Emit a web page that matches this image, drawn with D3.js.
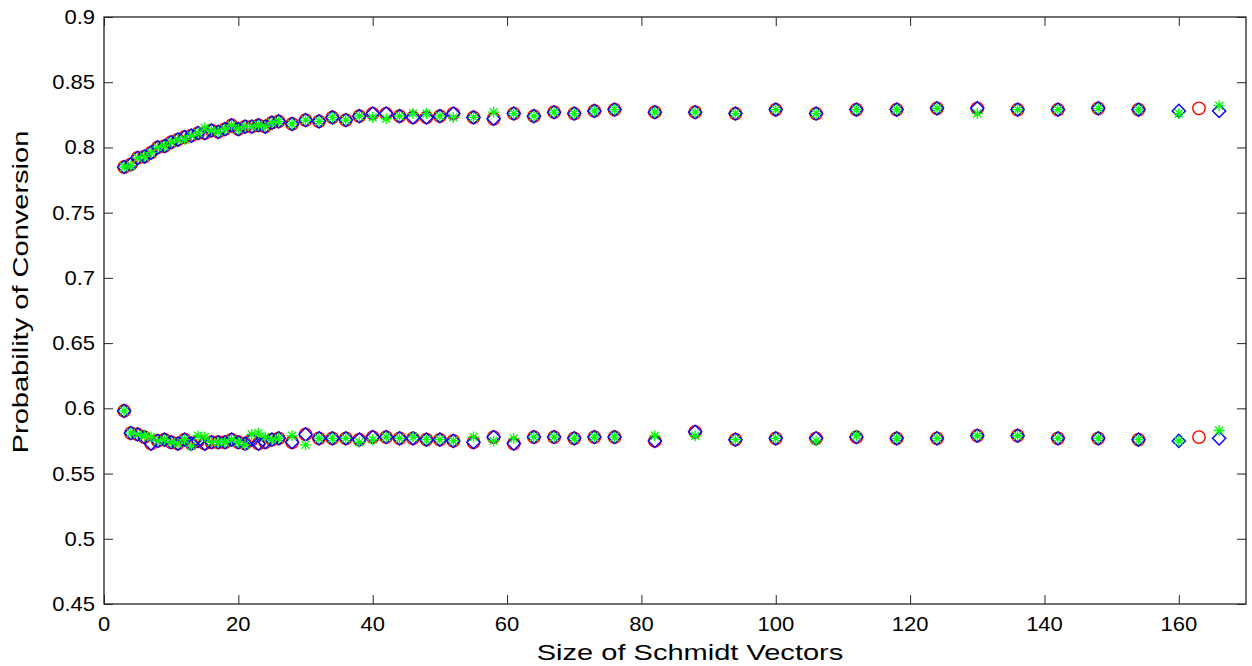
<!DOCTYPE html>
<html>
<head>
<meta charset="utf-8">
<script src="https://cdn.jsdelivr.net/npm/d3@7/dist/d3.min.js"></script>
<style>
  html, body { margin: 0; padding: 0; background: #fff; }
  svg { display: block; }
  text { font-family: "Liberation Sans", Arial, Helvetica, sans-serif; }
</style>
</head>
<body>
<svg id="chart" width="1252" height="666"></svg>
<script>
// ---------------- data ----------------
const commonSizes = [3,4,5,6,7,8,9,10,11,12,13,14,15,16,17,18,19,20,21,22,23,24,25,26,
  28,30,32,34,36,38,40,42,44,46,48,50,52,
  55,58,61,64,67,70,73,76,
  82,88,94,100,106,112,118,124,130,136,142,148,154];
const redExtraSizes = [163];
const blueExtraSizes = [160,166];

const upperRed = [0.785,0.787,0.792,0.793,0.796,0.800,0.801,0.804,0.806,0.808,0.809,0.811,0.811,0.813,0.812,0.814,0.817,0.814,0.816,0.816,0.817,0.816,0.819,0.820,
  0.818,0.821,0.820,0.823,0.821,0.824,0.826,0.826,0.824,0.823,0.823,0.824,0.826,
  0.823,0.822,0.826,0.824,0.827,0.826,0.828,0.829,
  0.827,0.827,0.826,0.829,0.826,0.829,0.829,0.830,0.830,0.829,0.829,0.830,0.829];
const upperRedExtra = [0.830];
const upperBlue = [0.785,0.787,0.792,0.793,0.796,0.800,0.801,0.804,0.806,0.808,0.809,0.811,0.811,0.813,0.812,0.814,0.817,0.814,0.816,0.816,0.817,0.816,0.819,0.820,
  0.818,0.821,0.820,0.823,0.821,0.824,0.826,0.826,0.824,0.823,0.823,0.824,0.826,
  0.823,0.822,0.826,0.824,0.827,0.826,0.828,0.829,
  0.827,0.827,0.826,0.829,0.826,0.829,0.829,0.830,0.830,0.829,0.829,0.830,0.829];
const upperBlueExtra = [0.828,0.828];
const upperGreen = [0.785,0.786,0.792,0.793,0.796,0.800,0.801,0.804,0.806,0.806,0.809,0.811,0.815,0.813,0.812,0.814,0.817,0.814,0.816,0.816,0.817,0.816,0.819,0.820,
  0.818,0.821,0.820,0.823,0.821,0.824,0.823,0.822,0.824,0.826,0.826,0.824,0.823,
  0.823,0.827,0.826,0.824,0.827,0.826,0.828,0.829,
  0.827,0.827,0.826,0.829,0.826,0.829,0.829,0.830,0.826,0.829,0.829,0.830,0.829];
const upperGreenExtra = [0.826,0.832];

const lowerRed = [0.598,0.581,0.580,0.578,0.573,0.575,0.576,0.574,0.573,0.576,0.573,0.575,0.573,0.574,0.574,0.574,0.576,0.574,0.573,0.576,0.573,0.574,0.576,0.577,
  0.574,0.580,0.577,0.577,0.577,0.576,0.578,0.578,0.577,0.577,0.576,0.576,0.575,
  0.574,0.578,0.573,0.578,0.578,0.577,0.578,0.578,
  0.575,0.582,0.576,0.577,0.577,0.578,0.577,0.577,0.579,0.579,0.577,0.577,0.576];
const lowerRedExtra = [0.578];
const lowerBlue = [0.598,0.581,0.580,0.578,0.573,0.575,0.576,0.574,0.573,0.576,0.573,0.575,0.573,0.574,0.574,0.574,0.576,0.574,0.573,0.576,0.573,0.574,0.576,0.577,
  0.574,0.580,0.577,0.577,0.577,0.576,0.578,0.578,0.577,0.577,0.576,0.576,0.575,
  0.574,0.578,0.573,0.578,0.578,0.577,0.578,0.578,
  0.575,0.582,0.576,0.577,0.577,0.578,0.577,0.577,0.579,0.579,0.577,0.577,0.576];
const lowerBlueExtra = [0.575,0.577];
const lowerGreen = [0.598,0.581,0.580,0.579,0.578,0.575,0.576,0.574,0.573,0.576,0.571,0.579,0.578,0.574,0.574,0.574,0.576,0.574,0.572,0.580,0.581,0.578,0.576,0.577,
  0.579,0.572,0.577,0.577,0.577,0.574,0.576,0.578,0.577,0.578,0.576,0.576,0.575,
  0.578,0.575,0.577,0.578,0.578,0.577,0.578,0.578,
  0.579,0.579,0.576,0.577,0.575,0.579,0.577,0.577,0.579,0.579,0.577,0.577,0.576];
const lowerGreenExtra = [0.575,0.583];

const xTicks = [0,20,40,60,80,100,120,140,160];
const yTicks = [0.45,0.5,0.55,0.6,0.65,0.7,0.75,0.8,0.85,0.9];
const xTickLabels = ["0","20","40","60","80","100","120","140","160"];
const yTickLabels = ["0.45","0.5","0.55","0.6","0.65","0.7","0.75","0.8","0.85","0.9"];
const xLabel = "Size of Schmidt Vectors";
const yLabel = "Probability of Conversion";

// ---------------- layout ----------------
const W = 1252, H = 666;
const m = {left: 104, top: 17, right: 6, bottom: 62};
const pw = W - m.left - m.right, ph = H - m.top - m.bottom;
const svg = d3.select("#chart");
const g = svg.append("g").attr("transform", `translate(${m.left},${m.top})`);

const x = d3.scaleLinear().domain([0,170]).range([0,pw]);
const y = d3.scaleLinear().domain([0.45,0.9]).range([ph,0]);

function pts(sizes, vals) { return sizes.map((s,i)=>({x:s, y:vals[i]})); }
const red = pts(commonSizes, upperRed).concat(pts(redExtraSizes, upperRedExtra))
  .concat(pts(commonSizes, lowerRed)).concat(pts(redExtraSizes, lowerRedExtra));
const blue = pts(commonSizes, upperBlue).concat(pts(blueExtraSizes, upperBlueExtra))
  .concat(pts(commonSizes, lowerBlue)).concat(pts(blueExtraSizes, lowerBlueExtra));
const green = pts(commonSizes, upperGreen).concat(pts(blueExtraSizes, upperGreenExtra))
  .concat(pts(commonSizes, lowerGreen)).concat(pts(blueExtraSizes, lowerGreenExtra));

// ---------------- axes ----------------
const axisColor = "#262626";
const tickLen = 9;
const tickFont = 20, tickStretch = 1.1;
const labelFont = 22, labelStretch = 1.32;

function style(sel) {
  sel.select(".domain").remove();
  sel.selectAll(".tick line").attr("stroke", axisColor).attr("stroke-width", 1);
  sel.selectAll(".tick text").remove();
}
g.append("g").attr("transform", `translate(0,${ph})`)
  .call(d3.axisBottom(x).tickValues(xTicks).tickSize(-tickLen).tickFormat("")).call(style);
g.append("g").call(d3.axisTop(x).tickValues(xTicks).tickSize(-tickLen).tickFormat("")).call(style);
g.append("g").call(d3.axisLeft(y).tickValues(yTicks).tickSize(-tickLen).tickFormat("")).call(style);
g.append("g").attr("transform", `translate(${pw},0)`)
  .call(d3.axisRight(y).tickValues(yTicks).tickSize(-tickLen).tickFormat("")).call(style);

g.append("rect").attr("x",0).attr("y",0).attr("width",pw).attr("height",ph)
  .attr("fill","none").attr("stroke",axisColor).attr("stroke-width",1.3);

// tick labels (slightly wide, like the original rendering)
g.append("g").selectAll("text").data(xTicks).join("text")
  .attr("transform", (d)=>`translate(${x(d)},${ph + 27}) scale(${tickStretch},1)`)
  .attr("text-anchor","middle").style("font-size", tickFont+"px").attr("fill","#000")
  .text((d,i)=>xTickLabels[i]);
g.append("g").selectAll("text").data(yTicks).join("text")
  .attr("transform", (d)=>`translate(-9,${y(d) + 7}) scale(${tickStretch},1)`)
  .attr("text-anchor","end").style("font-size", tickFont+"px").attr("fill","#000")
  .text((d,i)=>yTickLabels[i]);

// ---------------- markers ----------------
const marks = g.append("g");
marks.selectAll("circle.r").data(red).join("circle").attr("class","r")
  .attr("cx", d=>x(d.x)).attr("cy", d=>y(d.y)).attr("r", 6.2)
  .attr("fill","none").attr("stroke","#ff0000").attr("stroke-width",1.4);

const dSize = 6.6;
marks.selectAll("path.b").data(blue).join("path").attr("class","b")
  .attr("d", d=>{ const cx=x(d.x), cy=y(d.y);
    return `M${cx},${cy-dSize}L${cx+dSize},${cy}L${cx},${cy+dSize}L${cx-dSize},${cy}Z`; })
  .attr("fill","none").attr("stroke","#0000ff").attr("stroke-width",1.4);

const s = 5.5, sd = s*0.72;
marks.selectAll("path.gr").data(green).join("path").attr("class","gr")
  .attr("d", d=>{ const cx=x(d.x), cy=y(d.y);
    return `M${cx-s},${cy}L${cx+s},${cy}M${cx},${cy-s}L${cx},${cy+s}` +
      `M${cx-sd},${cy-sd}L${cx+sd},${cy+sd}M${cx-sd},${cy+sd}L${cx+sd},${cy-sd}`; })
  .attr("fill","none").attr("stroke","#00ff00").attr("stroke-width",1.3);

// ---------------- axis titles ----------------
svg.append("text").attr("transform", `translate(690,660) scale(${labelStretch},1)`)
  .attr("text-anchor","middle").style("font-size", labelFont+"px").attr("fill","#000").text(xLabel);
svg.append("text").attr("transform", `translate(28,292) rotate(-90) scale(${labelStretch},1)`)
  .attr("text-anchor","middle").style("font-size", labelFont+"px").attr("fill","#000").text(yLabel);
</script>
</body>
</html>
